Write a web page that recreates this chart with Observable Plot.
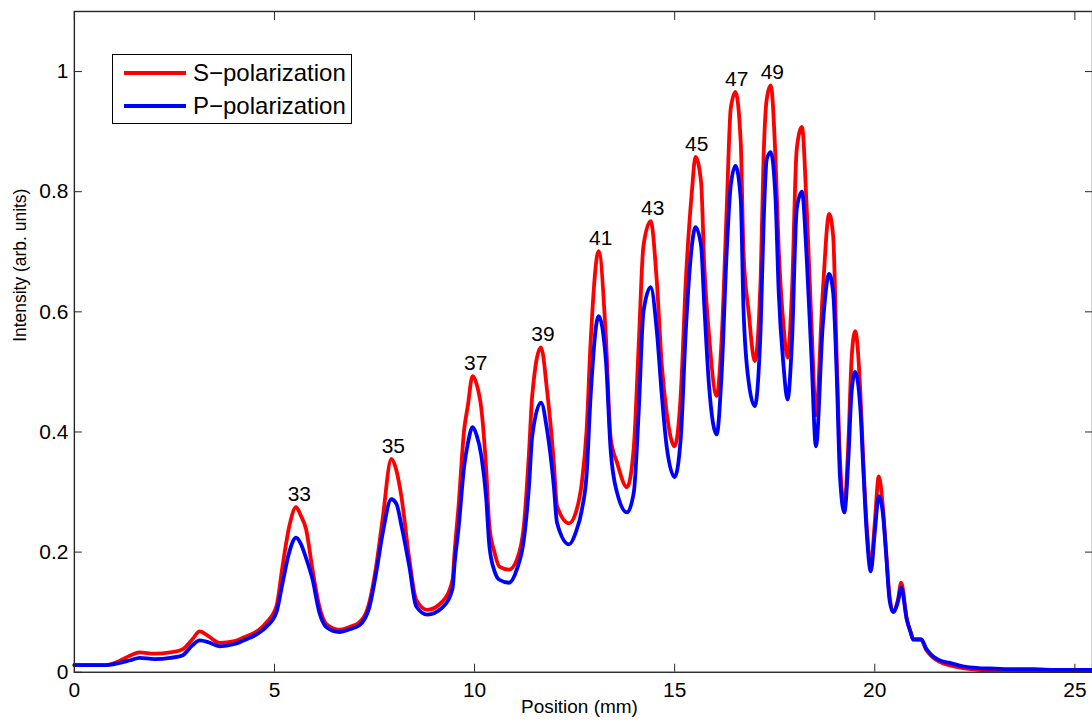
<!DOCTYPE html>
<html><head><meta charset="utf-8">
<script src="https://cdn.jsdelivr.net/npm/d3@7"></script>
<script src="https://cdn.jsdelivr.net/npm/@observablehq/plot@0.6"></script>
<style>
html,body{margin:0;padding:0;background:#fff;overflow:hidden;}
#wrap{position:relative;width:1092px;height:727px;overflow:hidden;}
#legend{position:absolute;left:112px;top:54px;width:238px;height:68px;border:1px solid #000;background:#fff;font-family:"Liberation Sans",Arial,Helvetica,sans-serif;font-size:24px;color:#000;}
#legend .row{position:absolute;left:0;height:30px;line-height:30px;}
#legend .sw{position:absolute;left:11px;top:13px;width:62px;height:4px;}
#legend .tx{position:absolute;left:80px;top:0;white-space:nowrap;}
</style>
</head><body>
<div id="wrap"><div id="chart"></div>
<div id="legend">
  <div class="row" style="top:3px"><div class="sw" style="background:#ff0000"></div><div class="tx">S−polarization</div></div>
  <div class="row" style="top:36px"><div class="sw" style="background:#0000ff"></div><div class="tx">P−polarization</div></div>
</div></div>
<script>
// Position (mm)
const posMm = [0.0,0.8,1.1,1.4,1.63,2.0,2.4,2.7,2.95,3.13,3.35,3.63,4.0,4.3,4.6,4.8,5.05,5.2,5.37,5.54,5.65,5.79,5.95,6.12,6.3,6.62,6.9,7.12,7.37,7.54,7.7,7.92,8.05,8.17,8.37,8.54,8.82,9.2,9.45,9.5,9.6,9.74,9.83,9.95,10.05,10.17,10.29,10.37,10.5,10.62,10.86,11.06,11.23,11.36,11.44,11.66,11.81,11.98,12.06,12.36,12.53,12.68,12.8,12.9,13.1,13.28,13.4,13.56,13.81,13.98,14.1,14.22,14.4,14.55,14.68,14.8,15.0,15.15,15.28,15.43,15.52,15.66,15.74,15.86,16.05,16.17,16.3,16.4,16.52,16.65,16.72,16.85,17.0,17.15,17.22,17.3,17.4,17.52,17.6,17.72,17.82,17.93,18.05,18.18,18.3,18.42,18.53,18.7,18.86,18.96,19.05,19.13,19.24,19.34,19.42,19.51,19.64,19.71,19.8,19.9,20.0,20.1,20.2,20.28,20.37,20.46,20.58,20.66,20.8,20.9,20.96,21.16,21.28,21.4,21.7,21.85,22.2,22.6,23.0,23.5,24.0,24.5,25.0,25.44];
// S-polarization intensity
const sPol = [0.012,0.012,0.018,0.028,0.033,0.031,0.033,0.038,0.055,0.068,0.06,0.049,0.052,0.06,0.07,0.083,0.11,0.176,0.243,0.275,0.262,0.238,0.171,0.11,0.08,0.071,0.076,0.083,0.116,0.176,0.254,0.355,0.335,0.293,0.188,0.121,0.104,0.118,0.154,0.2,0.277,0.404,0.443,0.493,0.48,0.438,0.338,0.243,0.199,0.176,0.171,0.188,0.243,0.366,0.46,0.541,0.47,0.349,0.277,0.248,0.266,0.316,0.404,0.55,0.701,0.559,0.39,0.349,0.308,0.376,0.543,0.71,0.751,0.654,0.51,0.432,0.376,0.46,0.654,0.8,0.858,0.816,0.676,0.56,0.46,0.55,0.771,0.938,0.966,0.883,0.699,0.599,0.518,0.66,0.854,0.954,0.977,0.854,0.704,0.577,0.524,0.632,0.871,0.908,0.771,0.577,0.428,0.632,0.763,0.726,0.521,0.355,0.276,0.382,0.521,0.568,0.466,0.355,0.243,0.175,0.249,0.326,0.277,0.204,0.126,0.101,0.121,0.149,0.088,0.066,0.054,0.054,0.038,0.028,0.015,0.012,0.007,0.004,0.003,0.002,0.002,0.002,0.002,0.002];
// P-polarization intensity
const pPol = [0.012,0.012,0.015,0.02,0.024,0.022,0.024,0.028,0.045,0.053,0.05,0.043,0.047,0.055,0.065,0.076,0.1,0.148,0.2,0.224,0.215,0.19,0.155,0.1,0.075,0.067,0.072,0.078,0.108,0.165,0.23,0.288,0.28,0.245,0.176,0.11,0.096,0.108,0.14,0.18,0.24,0.343,0.38,0.408,0.395,0.36,0.29,0.21,0.168,0.154,0.149,0.172,0.22,0.31,0.393,0.449,0.404,0.31,0.249,0.213,0.233,0.27,0.33,0.46,0.593,0.52,0.37,0.299,0.266,0.3,0.432,0.6,0.641,0.571,0.46,0.376,0.325,0.388,0.571,0.71,0.741,0.71,0.61,0.476,0.396,0.493,0.7,0.81,0.843,0.788,0.604,0.483,0.443,0.577,0.743,0.854,0.866,0.788,0.632,0.51,0.454,0.549,0.771,0.8,0.688,0.521,0.376,0.577,0.663,0.632,0.493,0.326,0.266,0.355,0.466,0.5,0.438,0.343,0.23,0.168,0.233,0.293,0.266,0.2,0.12,0.1,0.118,0.141,0.088,0.066,0.055,0.055,0.04,0.03,0.018,0.016,0.01,0.007,0.006,0.005,0.005,0.004,0.004,0.004];
// Peak order labels
const peakLabels = ["33","35","37","39","41","43","45","47","49"];
const peakLabelX = [5.62,7.97,10.03,11.71,13.15,14.45,15.55,16.55,17.44];
const peakLabelY = [0.275,0.355,0.493,0.541,0.701,0.751,0.858,0.966,0.977];
const xTicks = [0,5,10,15,20,25];
const yTicks = [0,0.2,0.4,0.6,0.8,1];

const sRows = posMm.map((x,i)=>({x, y: sPol[i]}));
const pRows = posMm.map((x,i)=>({x, y: pPol[i]}));
const font = '"Liberation Sans", Arial, Helvetica, sans-serif';
const axisColor = "#262626";

const chart = Plot.plot({
  width: 1094, height: 727,
  marginLeft: 74, marginRight: 0, marginTop: 11, marginBottom: 54,
  style: {fontFamily: font, background: "#fff", color: "#000"},
  x: {domain: [0, 25.44]},
  y: {domain: [0, 1.1]},
  marks: [
    Plot.line(sRows, {x: "x", y: "y", stroke: "#ff0000", strokeWidth: 3.8, strokeLinejoin: "round", curve: "monotone-x"}),
    Plot.line(pRows, {x: "x", y: "y", stroke: "#0000ff", strokeWidth: 3.8, strokeLinejoin: "round", curve: "monotone-x"}),
    Plot.text(peakLabels, {x: (d,i)=>peakLabelX[i], y: (d,i)=>peakLabelY[i], text: d=>d, dy: -13, fontSize: 21, fill: "#000"}),
    Plot.frame({stroke: axisColor, strokeWidth: 1.4}),
    Plot.axisX({anchor: "bottom", ticks: xTicks, tickSize: 8, dy: -8, tickFormat: () => "", label: null, stroke: axisColor}),
    Plot.axisX({anchor: "top", ticks: xTicks, tickSize: 8, dy: 8, tickFormat: () => "", label: null, stroke: axisColor}),
    Plot.axisY({anchor: "left", ticks: yTicks, tickSize: 8, dx: 8, tickFormat: () => "", label: null, stroke: axisColor}),
    Plot.axisY({anchor: "right", ticks: yTicks, tickSize: 8, dx: -8, tickFormat: () => "", label: null, stroke: axisColor}),
    Plot.axisX({anchor: "bottom", ticks: xTicks, tickSize: 0, tickPadding: 10, fontSize: 21, label: null, tickFormat: d3.format("d"), fill: "#000"}),
    Plot.axisY({anchor: "left", ticks: yTicks, tickSize: 0, tickPadding: 6, fontSize: 21, label: null, tickFormat: d => d === 0 ? "0" : (d === 1 ? "1" : d3.format(".1f")(d)), fill: "#000"}),
    Plot.text(["Position (mm)"], {frameAnchor: "bottom", dy: 41, dx: -4, fontSize: 19, fill: "#000"}),
    Plot.text(["Intensity (arb. units)"], {frameAnchor: "left", dx: -54, rotate: -90, fontSize: 17.5, fill: "#000"})
  ]
});
document.getElementById("chart").appendChild(chart);
</script>
</body></html>
